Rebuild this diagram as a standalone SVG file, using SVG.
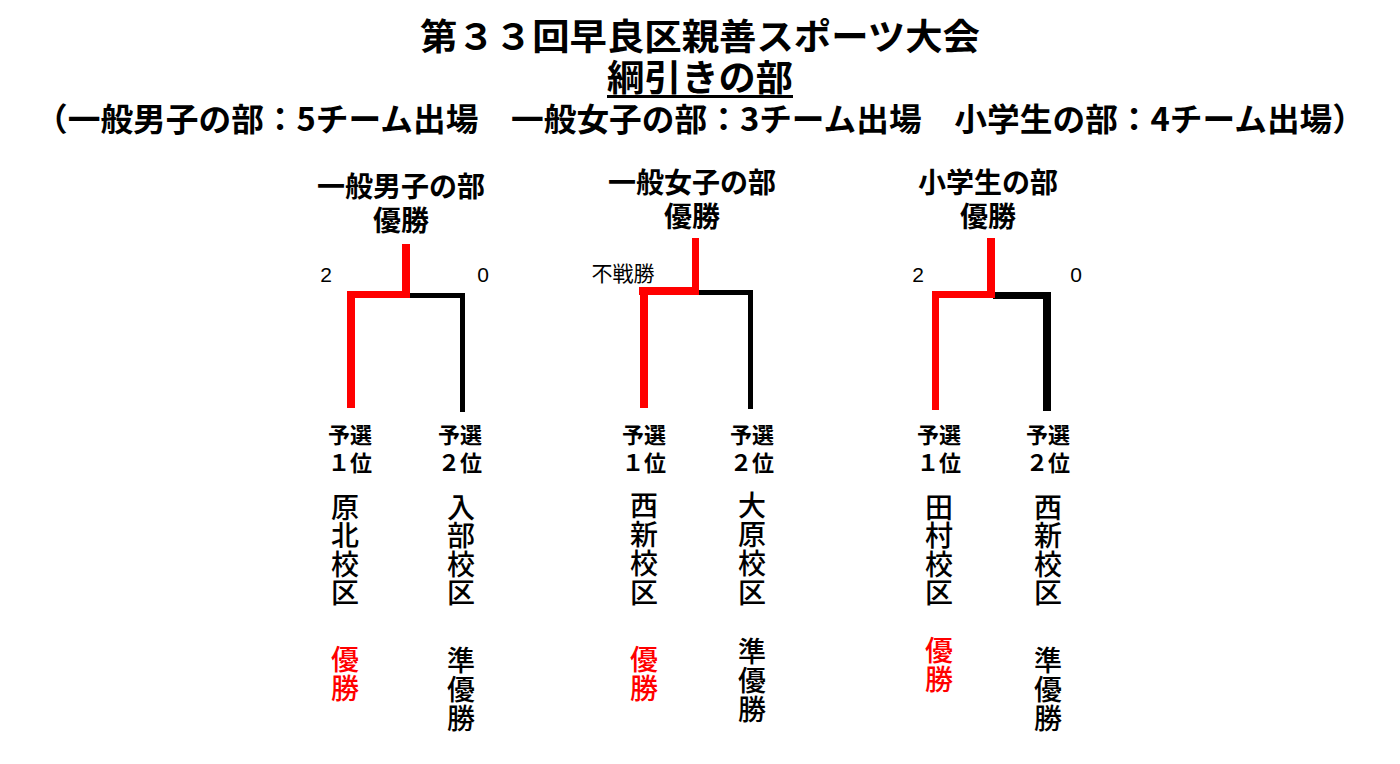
<svg xmlns="http://www.w3.org/2000/svg" width="1400" height="764" viewBox="0 0 1400 764">
<style>
text{font-family:"Noto Sans CJK JP","Noto Sans CJK SC",sans-serif;fill:#000;}
.ttl{font-size:36px;font-weight:700;text-anchor:middle;}
.sub{font-size:32px;font-weight:700;}
.hd{font-size:28px;font-weight:700;text-anchor:middle;}
.sc{font-size:21px;font-weight:400;text-anchor:middle;font-family:"Liberation Sans","Noto Sans CJK JP",sans-serif;}
.bw{font-size:21px;font-weight:400;text-anchor:middle;}
.lb{font-size:22px;font-weight:700;text-anchor:middle;}
.tm{font-size:28px;font-weight:500;text-anchor:middle;}
.red{fill:#ff0000;}
.rl{fill:#ff0000;}
.bl{fill:#000;}
</style>
<rect width="1400" height="764" fill="#fff"/>
<g id="title">
<text class="ttl" x="700" y="50" textLength="560" lengthAdjust="spacingAndGlyphs">第３３回早良区親善スポーツ大会</text>
<text class="ttl" x="700" y="91" textLength="186" lengthAdjust="spacingAndGlyphs">綱引きの部</text>
<rect x="607" y="95" width="186" height="3" fill="#000"/>
<text class="sub" x="35" y="131" textLength="1330" lengthAdjust="spacingAndGlyphs">（一般男子の部：5チーム出場　一般女子の部：3チーム出場　小学生の部：4チーム出場）</text>
</g>
<g id="connectors">
<g id="bracket-men">
<rect class="bl" x="410" y="293" width="55" height="5"/>
<rect class="bl" x="460" y="293" width="5" height="119"/>
<rect class="rl" x="402" y="244" width="8" height="54"/>
<rect class="rl" x="347" y="291" width="63" height="7"/>
<rect class="rl" x="347" y="291" width="8" height="117"/>
</g>
<g id="bracket-women">
<rect class="bl" x="699" y="290" width="54" height="5"/>
<rect class="bl" x="748" y="290" width="5" height="119"/>
<rect class="rl" x="692" y="238" width="7" height="57"/>
<rect class="rl" x="639" y="287" width="60" height="8"/>
<rect class="rl" x="640" y="287" width="8" height="121"/>
</g>
<g id="bracket-kids">
<rect class="bl" x="993" y="292" width="58" height="7"/>
<rect class="bl" x="1043" y="292" width="8" height="119"/>
<rect class="rl" x="987" y="238" width="8" height="60"/>
<rect class="rl" x="932" y="291" width="61" height="7"/>
<rect class="rl" x="932" y="291" width="7" height="119"/>
</g>
</g>
<g id="men">
<text class="hd" x="401" y="197">一般男子の部</text>
<text class="hd" x="401" y="231">優勝</text>
<text class="sc" x="326" y="282">2</text>
<text class="sc" x="483" y="282">0</text>
<g id="men-1">
<text class="lb" x="350" y="443">予選</text>
<text class="lb" x="350" y="471">１位</text>
<text class="tm" x="345"><tspan x="345" y="518">原</tspan><tspan x="345" y="546">北</tspan><tspan x="345" y="575">校</tspan><tspan x="345" y="603">区</tspan></text>
<text class="tm red" x="345"><tspan x="345" y="670">優</tspan><tspan x="345" y="699">勝</tspan></text>
</g>
<g id="men-2">
<text class="lb" x="460" y="443">予選</text>
<text class="lb" x="460" y="471">２位</text>
<text class="tm" x="461"><tspan x="461" y="518">入</tspan><tspan x="461" y="546">部</tspan><tspan x="461" y="575">校</tspan><tspan x="461" y="603">区</tspan></text>
<text class="tm" x="461"><tspan x="461" y="671">準</tspan><tspan x="461" y="700">優</tspan><tspan x="461" y="729">勝</tspan></text>
</g>
</g>
<g id="women">
<text class="hd" x="692" y="193">一般女子の部</text>
<text class="hd" x="692" y="227">優勝</text>
<text class="bw" x="623" y="281">不戦勝</text>
<g id="women-1">
<text class="lb" x="644" y="443">予選</text>
<text class="lb" x="644" y="471">１位</text>
<text class="tm" x="644"><tspan x="644" y="516">西</tspan><tspan x="644" y="545">新</tspan><tspan x="644" y="574">校</tspan><tspan x="644" y="603">区</tspan></text>
<text class="tm red" x="644"><tspan x="644" y="670">優</tspan><tspan x="644" y="699">勝</tspan></text>
</g>
<g id="women-2">
<text class="lb" x="752" y="443">予選</text>
<text class="lb" x="752" y="471">２位</text>
<text class="tm" x="752"><tspan x="752" y="516">大</tspan><tspan x="752" y="545">原</tspan><tspan x="752" y="574">校</tspan><tspan x="752" y="603">区</tspan></text>
<text class="tm" x="752"><tspan x="752" y="662">準</tspan><tspan x="752" y="691">優</tspan><tspan x="752" y="720">勝</tspan></text>
</g>
</g>
<g id="kids">
<text class="hd" x="988" y="193">小学生の部</text>
<text class="hd" x="988" y="227">優勝</text>
<text class="sc" x="918" y="282">2</text>
<text class="sc" x="1076" y="282">0</text>
<g id="kids-1">
<text class="lb" x="939" y="443">予選</text>
<text class="lb" x="939" y="471">１位</text>
<text class="tm" x="939"><tspan x="939" y="518">田</tspan><tspan x="939" y="546">村</tspan><tspan x="939" y="575">校</tspan><tspan x="939" y="603">区</tspan></text>
<text class="tm red" x="939"><tspan x="939" y="661">優</tspan><tspan x="939" y="690">勝</tspan></text>
</g>
<g id="kids-2">
<text class="lb" x="1048" y="443">予選</text>
<text class="lb" x="1048" y="471">２位</text>
<text class="tm" x="1048"><tspan x="1048" y="518">西</tspan><tspan x="1048" y="546">新</tspan><tspan x="1048" y="575">校</tspan><tspan x="1048" y="603">区</tspan></text>
<text class="tm" x="1048"><tspan x="1048" y="671">準</tspan><tspan x="1048" y="700">優</tspan><tspan x="1048" y="729">勝</tspan></text>
</g>
</g>
</svg>
